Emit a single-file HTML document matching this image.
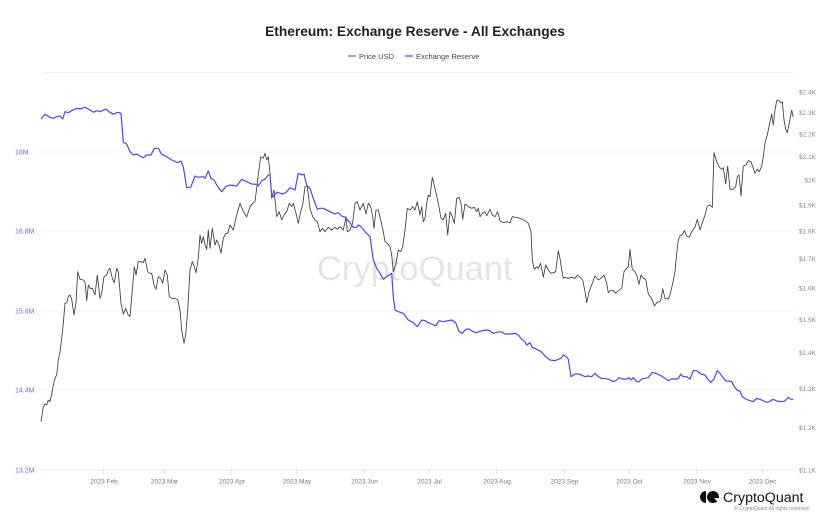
<!DOCTYPE html>
<html>
<head>
<meta charset="utf-8">
<style>
html,body{margin:0;padding:0;background:#fff;}
body{width:830px;height:523px;overflow:hidden;font-family:"Liberation Sans",Arial,sans-serif;}
svg{display:block;}
</style>
</head>
<body>
<svg width="830" height="523" viewBox="0 0 830 523" xmlns="http://www.w3.org/2000/svg" font-family="Liberation Sans, Arial, sans-serif">
<rect width="830" height="523" fill="#fff"/>
<!-- title -->
<text x="415" y="36" text-anchor="middle" font-size="13.75" font-weight="bold" fill="#222">Ethereum: Exchange Reserve - All Exchanges</text>
<!-- legend -->
<line x1="348" y1="56" x2="356" y2="56" stroke="#555" stroke-width="1"/>
<text x="359" y="59" font-size="7.5" fill="#444">Price USD</text>
<line x1="405" y1="56" x2="413" y2="56" stroke="#5b3df5" stroke-width="1.2"/>
<text x="416" y="59" font-size="7.5" fill="#444">Exchange Reserve</text>

<!-- gridlines -->
<g stroke="#f1f1f3" stroke-width="1">
<line x1="41" y1="72.5" x2="793" y2="72.5"/>
<line x1="41" y1="152" x2="793" y2="152"/>
<line x1="41" y1="231" x2="793" y2="231"/>
<line x1="41" y1="311" x2="793" y2="311"/>
<line x1="41" y1="390" x2="793" y2="390"/>
</g>
<line x1="41" y1="470" x2="793" y2="470" stroke="#e6e6e8" stroke-width="1"/>
<g stroke="#ddd" stroke-width="1">
<line x1="103.3" y1="470" x2="103.3" y2="474"/>
<line x1="164.3" y1="470" x2="164.3" y2="474"/>
<line x1="231.7" y1="470" x2="231.7" y2="474"/>
<line x1="296.7" y1="470" x2="296.7" y2="474"/>
<line x1="364.3" y1="470" x2="364.3" y2="474"/>
<line x1="429.3" y1="470" x2="429.3" y2="474"/>
<line x1="496.7" y1="470" x2="496.7" y2="474"/>
<line x1="564.3" y1="470" x2="564.3" y2="474"/>
<line x1="629.3" y1="470" x2="629.3" y2="474"/>
<line x1="696.7" y1="470" x2="696.7" y2="474"/>
<line x1="762.3" y1="470" x2="762.3" y2="474"/>
</g>
<!-- x labels -->
<g font-size="6.5" fill="#777" text-anchor="middle">
<text x="104" y="483.5">2023 Feb</text>
<text x="164.5" y="483.5">2023 Mar</text>
<text x="232" y="483.5">2023 Apr</text>
<text x="297" y="483.5">2023 May</text>
<text x="364.5" y="483.5">2023 Jun</text>
<text x="429.5" y="483.5">2023 Jul</text>
<text x="497" y="483.5">2023 Aug</text>
<text x="564.5" y="483.5">2023 Sep</text>
<text x="629.5" y="483.5">2023 Oct</text>
<text x="697" y="483.5">2023 Nov</text>
<text x="762.5" y="483.5">2023 Dec</text>
</g>
<!-- left labels -->
<g font-size="7" fill="#7b61ff">
<text x="15" y="154.5">18M</text>
<text x="15" y="233.5">16.8M</text>
<text x="15" y="313.5">15.6M</text>
<text x="15" y="392.5">14.4M</text>
<text x="15" y="472.5">13.2M</text>
</g>
<!-- right labels -->
<g font-size="6.5" fill="#888" text-anchor="end">
<text x="816" y="94.3">$2.4K</text>
<text x="816" y="114.9">$2.3K</text>
<text x="816" y="136.4">$2.2K</text>
<text x="816" y="158.9">$2.1K</text>
<text x="816" y="182.6">$2K</text>
<text x="816" y="207.4">$1.9K</text>
<text x="816" y="233.6">$1.8K</text>
<text x="816" y="261.2">$1.7K</text>
<text x="816" y="290.6">$1.6K</text>
<text x="816" y="321.8">$1.5K</text>
<text x="816" y="355.2">$1.4K</text>
<text x="816" y="391.1">$1.3K</text>
<text x="816" y="429.8">$1.2K</text>
<text x="816" y="472.3">$1.1K</text>
</g>
<!-- watermark -->
<text x="317" y="280" font-size="34.5" fill="#e4e4ea">CryptoQuant</text>

<!-- price -->
<polyline fill="none" stroke="#3d3d3d" stroke-width="0.85" stroke-linejoin="round" points="41,421.7 43.3,406.7 45,404 46.7,405 48.3,400 50,401.7 51.7,394 53.3,385 55,378.3 56.7,375 58.3,360 60,351.7 61.7,338.3 63.3,323.3 65,303.3 66.7,302.7 68.3,296.7 70,295 71.7,299.3 74,315 76,302.7 77.7,271.7 80,279.3 83.3,280 85,281.7 86.7,300.7 88.3,285 90,288.3 92.3,288.3 95,295 97.3,275 100,298.3 101.7,293.3 104,276.7 106.7,275 108.3,270 110,268.3 112.3,278.3 114.3,282.7 116.7,268.3 118.3,271.7 121,303.3 123.3,314 125.7,308.3 127.7,314 130,316.7 132.3,290 134.3,266.7 136,275 138.3,261.7 141,261.7 143.3,262.7 145,258.3 147.7,271.7 150,273.3 151.7,273.3 154,285 156,289.3 158.3,276.7 160.7,278.3 162.7,283.3 165,270 167.3,275 169.3,296.7 171.7,298.3 175,298.3 177.7,300 180,310 181.7,330 184,343.3 185.7,335 187.7,310 190,270 192.3,261.7 194.3,266.7 196,272.7 198.3,258.3 200,235 201.7,243.3 203.3,236.7 205,245 206.7,249.3 208.3,230 210,248.3 212.3,228.3 215,245 216.7,240 219,245 221,253.3 223.3,238.3 225.7,233.3 227.7,233.3 230,225 233.3,230 236.7,215 240,203.3 243.3,211.7 246.7,216.7 250,206.7 252.7,203.3 255,201.7 258.3,175 260.7,156.7 263.3,158.3 265,153.3 266.7,160 268.3,156.7 270,173.3 271.7,198.3 274,190 276.7,216.7 279.3,211.7 281.7,220 284,215 286.7,211.7 289.3,203.3 291.7,206.7 293.3,203.3 296,213.3 298.3,223.3 300.7,211.7 302.7,205 305,186.7 307.3,186.7 310,208.3 312.7,216.7 315,220 317.3,221.7 320,231.7 322.3,228.3 325,231.7 328.3,227.3 331.7,230 335,227.3 337.3,229.3 340,226.7 343.3,230 346,216.7 347.3,231.7 350,230 352.7,222.7 355,203.3 357.3,201.7 360,210 363.3,203.3 366,214 368.3,203.3 370.7,206.7 372.7,216.7 374,228.3 376,210 378.3,210 380.7,220 383.3,231.7 385,241.7 387.3,243.3 390,246.7 391.7,255 393.3,271.7 395.7,265 398.3,250 400.7,251.7 402.7,246.7 405,230 407.3,208.3 410,210 412.7,206.7 415,210 417.3,201.7 420,215 421.7,206.7 423.3,221.7 425,218.3 426.7,203.3 428.3,195 430,196.7 432.3,177.3 435,188.3 438.3,203.3 441,218.3 443.3,220 445.7,213.3 447.7,235 450,211.7 451.7,215 454.3,223.3 456.7,198.3 459,197.3 461,203.3 462.7,219.3 465,204 468.3,206.7 471.7,208.3 474.3,207.3 476.7,211.7 478.3,208.3 480,216.7 482.3,213.3 485,211.7 486.7,215.7 490,209.3 492.3,215 495,216.7 497.7,211.7 500,220.7 503.3,222.7 506.7,221.7 510,222.7 512.3,216.7 515.7,217.3 520,218.3 525,220.7 528.3,223.3 531,231.7 532.3,260 534.3,269.3 536.7,266.7 538.3,268.3 540.7,263.3 543.3,277.3 545.7,265 548.3,270 551,273.3 553.3,272.7 555.7,271.7 558.3,250.7 560,258.3 561.7,270 563.3,278.3 565,277.3 568.3,278.3 571.7,277.3 575,278.3 577.7,275 580,277.3 582.7,280 585,291.7 586.7,302.7 589,291.7 591.7,285 595,276 598.3,280 601,278.3 604,275 606.7,283.3 608.3,292.7 611,290 613.3,290.7 615.7,293.3 618.3,290.7 621.7,288.3 624,271.7 626.7,268.3 628.3,266.7 630,249.3 632.3,269.3 635,271.7 636.7,275 639,284.3 641,275 643.3,278.3 645.7,279.3 648.3,294 650.7,297.3 652.3,300 654.3,306 656.7,302.7 659.3,301.7 660.7,300.7 662.7,288.7 665,298.3 668.3,299 670,295 672.7,283.3 675,271.7 676.7,253.3 678.3,240 680,236 682.7,234 684.3,230.7 686.7,236 689.3,237.3 691.7,231.7 695,227.3 697.3,219.3 700,230 702.7,221.7 705,215 707.3,206 710,205 712.3,207.3 714,152.7 716.7,161.7 719,166.7 721.7,169.3 723.3,167.7 725.7,184 727.7,166 730,189.3 733.3,189.3 735.7,186.7 737.3,176.7 739,175 741,196 743.3,166 746,165 748.3,160.7 751,161.7 753.3,168.3 755,173.3 757.3,169.3 759.3,171.7 761.7,166 763.3,156.7 765,142.7 767.3,135 769.3,125 771.7,114 773.3,125 775,110 776.7,100.7 779,100.7 780.7,102.7 782.3,101.7 784,120 785.7,129.3 787.3,132.7 790,119.3 791.7,110 793.3,117.3"/>

<!-- exchange reserve -->
<polyline fill="none" stroke="#5b3df5" stroke-width="1.2" stroke-linejoin="round" points="41,119.3 45,114.3 50,117.3 53.3,118.3 56.7,116.7 60,116 62.7,119 65,111.7 68.3,112.7 71.7,110.7 76.7,108.3 80,109 85,107.3 90,110 93.3,112.3 96.7,110.7 100,111.7 105.7,109 109,111.7 113.3,114.3 117.7,112.3 121,113.3 123.3,142.3 126.7,144 130,151.7 133.3,155 136.7,154 140,156 143.3,157.7 146.7,155 151,155 154.3,148.3 158.3,148.3 161.7,154.3 166.7,156.7 171.7,160 177.7,162.7 181,161 183.3,166.7 186.7,187.7 190.7,187.3 195,176 198.3,177.3 203.3,176.7 205,178.3 208.3,171 211,178.3 214,180 217.7,186.7 221.7,191.7 225.7,186.7 230,185 236.7,186 241.7,179.3 246.7,181.7 251.7,184 256.7,184.3 258.3,186 261.7,180.7 265,179.3 268.3,175 270,175 271.7,195 273.3,196.7 276.7,192.3 280,193.3 283.3,194 286.7,191.7 290,187.7 295,190 298.3,173.3 301.7,175 304,174 306.7,185 310,188.3 313.3,198.3 317.3,209.3 320,208.3 323.3,208.3 330,211.7 335,214 338.3,212.7 341.7,216 345,217.3 350,222.7 353.3,227.3 356.7,227.3 358.3,225 361.7,227.3 365,231.7 370,236.7 373.3,260 376.7,268.3 380,273.3 383.3,279.3 386.7,276.7 391.7,273.3 393.3,296.7 395,310 398.3,311.7 403.3,313.3 408.3,320 413.3,322.7 417.3,326.7 421.7,320 425,320.7 428.3,322.7 431.7,324 435.7,326 439,320.7 443.3,321.7 447.7,320.7 451.7,320 455.7,322.7 459,331.7 462.3,333.3 465.7,329.3 469,329 473.3,331.7 476.7,332.7 481.7,330.7 486.7,330 490,330.7 493.3,333.3 496.7,332.3 501,331.7 505,334 510,334 515,333.3 518.3,335 521.7,339.3 525,341.7 526.7,345 530,342.7 532.3,347.3 536.7,349.3 541,351.7 545,356 550,360 555,360.7 558.3,359.3 561,358.3 563.3,355 566.7,357.3 568.3,359.3 571,376.7 575,374 578.3,374 581.7,375 585,376.7 588.3,376 591.7,376.7 595,373.3 597.7,376 601,378.3 605,378.7 609,379.3 613.3,381.7 616.7,380 619,377.7 622.3,379 625.7,379.3 629,377.7 631,380 633.3,377.7 636.7,381.7 639,381.7 641.7,379 645,378.3 648.3,377.7 652.3,372.3 656.7,373.7 661,375.7 665,378.3 668.3,380.7 671.7,379 675.7,379 678.3,378.3 680.7,374.3 683.3,376.7 686.7,376.7 690,379 693.3,370.7 696.7,370.7 701,374 705,375 707.7,379 711,382.3 714,379 717.3,370.7 720,373.3 722.3,376.7 725.7,381 728.3,381 731.7,381.7 734.3,386.7 737.7,390.7 740,391 742.3,396.7 745.7,399 750,400.7 753.3,401.7 756.7,398.3 761.7,400 766.7,402.3 769,401.7 773.3,399.3 776.7,401 781.7,401.7 785,401 788.3,397.3 791,399.3 793.3,399.3"/>

<!-- logo -->
<path d="M706,491 A6,6 0 0 0 706,503 Z" fill="#111"/>
<circle cx="713" cy="497" r="6" fill="#111"/>
<path d="M714,498 L720,498 L720,504 Z" fill="#fff"/>
<text x="723" y="502" font-size="14.2" fill="#111">CryptoQuant</text>
<text x="810" y="510" font-size="5" fill="#888" text-anchor="end">© CryptoQuant All rights reserved.</text>
</svg>
</body>
</html>
